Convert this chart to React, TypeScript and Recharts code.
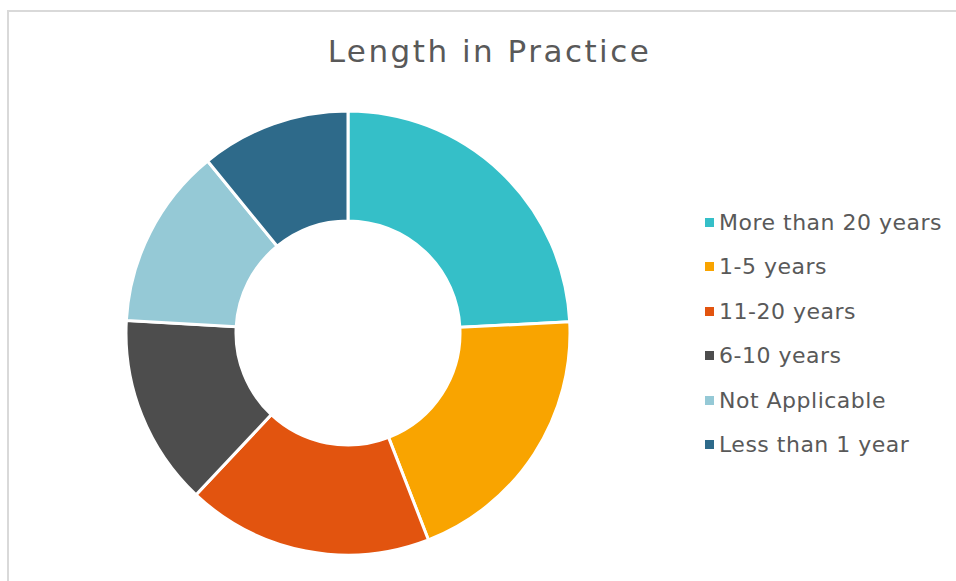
import React from 'react';
import { PieChart, Pie, Cell, Legend } from 'recharts';

// Share of respondents by length in practice (%)
const categories = [
  'More than 20 years',
  '1-5 years',
  '11-20 years',
  '6-10 years',
  'Not Applicable',
  'Less than 1 year',
];
const shares = [24.2, 19.9, 17.9, 13.9, 13.2, 10.9];
const colors = ['#35BFC8', '#F9A400', '#E2540F', '#4D4D4D', '#95C9D6', '#2E6A8A'];

const data = categories.map((name, i) => ({ name, value: shares[i] }));

const FONT = '"DejaVu Sans", sans-serif';

// Legend drawn as a plain list so row spacing matches the Office look
const renderLegend = () => (
  <ul style={{ listStyle: 'none', margin: 0, padding: 0 }}>
    {categories.map((name, i) => (
      <li
        key={name}
        style={{
          display: 'flex',
          alignItems: 'center',
          height: 44.5,
          color: '#595959',
          fontFamily: FONT,
          fontSize: 22,
          letterSpacing: 0.5,
          whiteSpace: 'nowrap',
        }}
      >
        <span style={{ display: 'inline-block', width: 9, height: 9, background: colors[i], marginRight: 5 }} />
        {name}
      </li>
    ))}
  </ul>
);

export default function App() {
  return (
    <div style={{ position: 'absolute', left: 0, top: 0, width: 956, height: 581, background: '#fff', overflow: 'hidden' }}>
      {/* chart frame, only top/left edges visible in the crop */}
      <div
        style={{
          position: 'absolute',
          left: 7,
          top: 10,
          width: 960,
          height: 600,
          borderTop: '2px solid #d9d9d9',
          borderLeft: '2px solid #d9d9d9',
        }}
      />
      <div
        style={{
          position: 'absolute',
          left: 2,
          width: 975,
          top: 33,
          textAlign: 'center',
          fontFamily: FONT,
          fontSize: 31,
          letterSpacing: 2.5,
          color: '#595959',
        }}
      >
        Length in Practice
      </div>
      <PieChart
        width={956}
        height={581}
        margin={{ top: 0, right: 0, bottom: 0, left: 0 }}
        style={{ position: 'absolute', left: 0, top: 0 }}
      >
        <Pie
          data={data}
          dataKey="value"
          nameKey="name"
          cx={348}
          cy={333}
          innerRadius={112}
          outerRadius={222}
          startAngle={90}
          endAngle={-270}
          stroke="#ffffff"
          strokeWidth={3}
          isAnimationActive={false}
        >
          {data.map((d, i) => (
            <Cell key={d.name} fill={colors[i]} />
          ))}
        </Pie>
        <Legend
          content={renderLegend}
          layout="vertical"
          wrapperStyle={{ position: 'absolute', left: 705, top: 200, width: 250 }}
        />
      </PieChart>
    </div>
  );
}
